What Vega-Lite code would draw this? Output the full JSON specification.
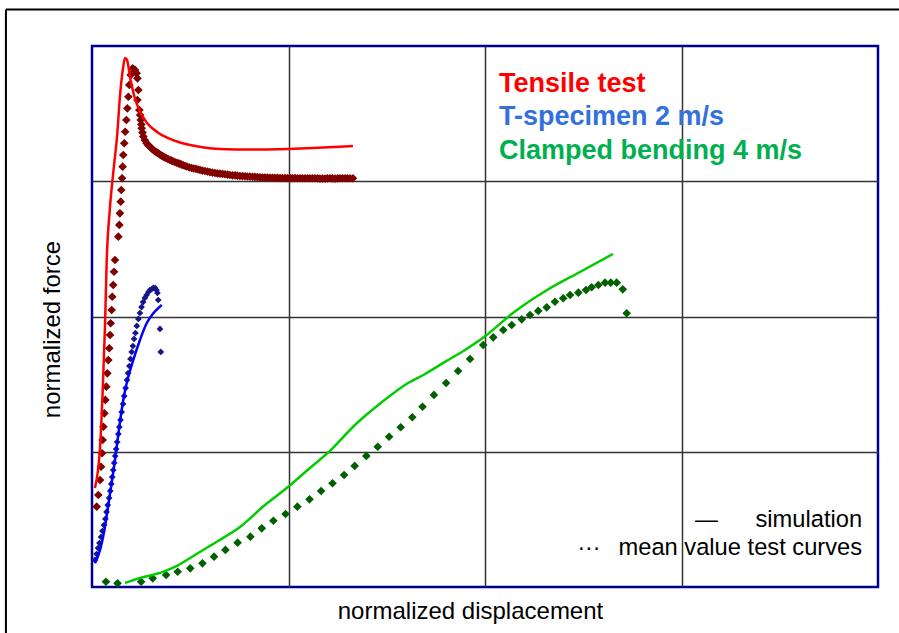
{
  "$schema": "https://vega.github.io/schema/vega-lite/v6.json",
  "width": 786,
  "height": 541,
  "autosize": {"type": "none"},
  "padding": {"left": 92, "top": 46, "right": 21, "bottom": 46},
  "background": "white",
  "config": {
    "font": "Liberation Sans",
    "view": {"stroke": "#000090", "strokeWidth": 2.5},
    "axis": {"grid": true, "ticks": false, "labels": false, "domain": false, "gridColor": "#333333", "gridWidth": 1.5, "gridOpacity": 1, "titleFont": "Liberation Sans", "titleFontSize": 24, "titleFontWeight": "normal", "titleColor": "#000000"}
  },
  "datasets": {
    "curves": [
      {"s": "tensile_sim", "x": 0.015, "y": 0.732},
      {"s": "tensile_sim", "x": 0.041, "y": 1.035},
      {"s": "tensile_sim", "x": 0.054, "y": 1.434},
      {"s": "tensile_sim", "x": 0.066, "y": 1.922},
      {"s": "tensile_sim", "x": 0.075, "y": 2.420},
      {"s": "tensile_sim", "x": 0.090, "y": 2.780},
      {"s": "tensile_sim", "x": 0.110, "y": 3.090},
      {"s": "tensile_sim", "x": 0.128, "y": 3.340},
      {"s": "tensile_sim", "x": 0.142, "y": 3.623},
      {"s": "tensile_sim", "x": 0.158, "y": 3.837},
      {"s": "tensile_sim", "x": 0.168, "y": 3.911},
      {"s": "tensile_sim", "x": 0.178, "y": 3.897},
      {"s": "tensile_sim", "x": 0.195, "y": 3.760},
      {"s": "tensile_sim", "x": 0.215, "y": 3.630},
      {"s": "tensile_sim", "x": 0.244, "y": 3.515},
      {"s": "tensile_sim", "x": 0.280, "y": 3.431},
      {"s": "tensile_sim", "x": 0.331, "y": 3.365},
      {"s": "tensile_sim", "x": 0.382, "y": 3.322},
      {"s": "tensile_sim", "x": 0.440, "y": 3.290},
      {"s": "tensile_sim", "x": 0.499, "y": 3.268},
      {"s": "tensile_sim", "x": 0.570, "y": 3.250},
      {"s": "tensile_sim", "x": 0.651, "y": 3.239},
      {"s": "tensile_sim", "x": 0.804, "y": 3.234},
      {"s": "tensile_sim", "x": 0.992, "y": 3.239},
      {"s": "tensile_sim", "x": 1.125, "y": 3.246},
      {"s": "tensile_sim", "x": 1.328, "y": 3.261},

      {"s": "tspec_sim", "x": 0.015, "y": 0.175},
      {"s": "tspec_sim", "x": 0.041, "y": 0.274},
      {"s": "tspec_sim", "x": 0.066, "y": 0.446},
      {"s": "tspec_sim", "x": 0.092, "y": 0.693},
      {"s": "tspec_sim", "x": 0.117, "y": 0.939},
      {"s": "tspec_sim", "x": 0.139, "y": 1.185},
      {"s": "tspec_sim", "x": 0.159, "y": 1.383},
      {"s": "tspec_sim", "x": 0.185, "y": 1.555},
      {"s": "tspec_sim", "x": 0.210, "y": 1.678},
      {"s": "tspec_sim", "x": 0.244, "y": 1.826},
      {"s": "tspec_sim", "x": 0.278, "y": 1.950},
      {"s": "tspec_sim", "x": 0.312, "y": 2.024},
      {"s": "tspec_sim", "x": 0.355, "y": 2.085},

      {"s": "bend_sim", "x": 0.168, "y": 0.030},
      {"s": "bend_sim", "x": 0.244, "y": 0.067},
      {"s": "bend_sim", "x": 0.346, "y": 0.104},
      {"s": "bend_sim", "x": 0.422, "y": 0.148},
      {"s": "bend_sim", "x": 0.524, "y": 0.237},
      {"s": "bend_sim", "x": 0.641, "y": 0.340},
      {"s": "bend_sim", "x": 0.753, "y": 0.444},
      {"s": "bend_sim", "x": 0.880, "y": 0.606},
      {"s": "bend_sim", "x": 0.997, "y": 0.739},
      {"s": "bend_sim", "x": 1.109, "y": 0.880},
      {"s": "bend_sim", "x": 1.211, "y": 1.006},
      {"s": "bend_sim", "x": 1.338, "y": 1.198},
      {"s": "bend_sim", "x": 1.476, "y": 1.368},
      {"s": "bend_sim", "x": 1.593, "y": 1.494},
      {"s": "bend_sim", "x": 1.695, "y": 1.575},
      {"s": "bend_sim", "x": 1.796, "y": 1.664},
      {"s": "bend_sim", "x": 1.898, "y": 1.752},
      {"s": "bend_sim", "x": 1.995, "y": 1.848},
      {"s": "bend_sim", "x": 2.142, "y": 2.026},
      {"s": "bend_sim", "x": 2.316, "y": 2.196},
      {"s": "bend_sim", "x": 2.483, "y": 2.329},
      {"s": "bend_sim", "x": 2.651, "y": 2.462},

      {"s": "tensile_test", "x": 0.024, "y": 0.594},
      {"s": "tensile_test", "x": 0.032, "y": 0.680},
      {"s": "tensile_test", "x": 0.041, "y": 0.791},
      {"s": "tensile_test", "x": 0.046, "y": 0.889},
      {"s": "tensile_test", "x": 0.051, "y": 0.989},
      {"s": "tensile_test", "x": 0.054, "y": 1.087},
      {"s": "tensile_test", "x": 0.058, "y": 1.185},
      {"s": "tensile_test", "x": 0.063, "y": 1.284},
      {"s": "tensile_test", "x": 0.068, "y": 1.383},
      {"s": "tensile_test", "x": 0.073, "y": 1.481},
      {"s": "tensile_test", "x": 0.078, "y": 1.580},
      {"s": "tensile_test", "x": 0.083, "y": 1.678},
      {"s": "tensile_test", "x": 0.088, "y": 1.765},
      {"s": "tensile_test", "x": 0.092, "y": 1.863},
      {"s": "tensile_test", "x": 0.095, "y": 1.950},
      {"s": "tensile_test", "x": 0.100, "y": 2.048},
      {"s": "tensile_test", "x": 0.103, "y": 2.146},
      {"s": "tensile_test", "x": 0.108, "y": 2.233},
      {"s": "tensile_test", "x": 0.112, "y": 2.331},
      {"s": "tensile_test", "x": 0.117, "y": 2.418},
      {"s": "tensile_test", "x": 0.134, "y": 2.590},
      {"s": "tensile_test", "x": 0.139, "y": 2.677},
      {"s": "tensile_test", "x": 0.142, "y": 2.763},
      {"s": "tensile_test", "x": 0.146, "y": 2.849},
      {"s": "tensile_test", "x": 0.149, "y": 2.935},
      {"s": "tensile_test", "x": 0.153, "y": 3.022},
      {"s": "tensile_test", "x": 0.156, "y": 3.108},
      {"s": "tensile_test", "x": 0.159, "y": 3.194},
      {"s": "tensile_test", "x": 0.164, "y": 3.281},
      {"s": "tensile_test", "x": 0.169, "y": 3.366},
      {"s": "tensile_test", "x": 0.175, "y": 3.453},
      {"s": "tensile_test", "x": 0.180, "y": 3.539},
      {"s": "tensile_test", "x": 0.185, "y": 3.625},
      {"s": "tensile_test", "x": 0.190, "y": 3.712},
      {"s": "tensile_test", "x": 0.197, "y": 3.786},
      {"s": "tensile_test", "x": 0.207, "y": 3.835},
      {"s": "tensile_test", "x": 0.219, "y": 3.823},
      {"s": "tensile_test", "x": 0.227, "y": 3.798},
      {"s": "tensile_test", "x": 0.231, "y": 3.761},
      {"s": "tensile_test", "x": 0.236, "y": 3.675},
      {"s": "tensile_test", "x": 0.231, "y": 3.601},
      {"s": "tensile_test", "x": 0.241, "y": 3.527},
      {"s": "tensile_test", "x": 0.245, "y": 3.490},
      {"s": "tensile_test", "x": 0.248, "y": 3.453},
      {"s": "tensile_test", "x": 0.251, "y": 3.420},
      {"s": "tensile_test", "x": 0.253, "y": 3.392},
      {"s": "tensile_test", "x": 0.257, "y": 3.360},
      {"s": "tensile_test", "x": 0.261, "y": 3.330},
      {"s": "tensile_test", "x": 0.269, "y": 3.303},
      {"s": "tensile_test", "x": 0.278, "y": 3.281},
      {"s": "tensile_test", "x": 0.286, "y": 3.267},
      {"s": "tensile_test", "x": 0.295, "y": 3.256},
      {"s": "tensile_test", "x": 0.303, "y": 3.243},
      {"s": "tensile_test", "x": 0.312, "y": 3.231},
      {"s": "tensile_test", "x": 0.319, "y": 3.223},
      {"s": "tensile_test", "x": 0.326, "y": 3.216},
      {"s": "tensile_test", "x": 0.331, "y": 3.211},
      {"s": "tensile_test", "x": 0.337, "y": 3.207},
      {"s": "tensile_test", "x": 0.344, "y": 3.199},
      {"s": "tensile_test", "x": 0.351, "y": 3.192},
      {"s": "tensile_test", "x": 0.357, "y": 3.187},
      {"s": "tensile_test", "x": 0.363, "y": 3.182},
      {"s": "tensile_test", "x": 0.370, "y": 3.177},
      {"s": "tensile_test", "x": 0.377, "y": 3.172},
      {"s": "tensile_test", "x": 0.387, "y": 3.164},
      {"s": "tensile_test", "x": 0.397, "y": 3.157},
      {"s": "tensile_test", "x": 0.405, "y": 3.152},
      {"s": "tensile_test", "x": 0.412, "y": 3.148},
      {"s": "tensile_test", "x": 0.421, "y": 3.142},
      {"s": "tensile_test", "x": 0.431, "y": 3.137},
      {"s": "tensile_test", "x": 0.440, "y": 3.132},
      {"s": "tensile_test", "x": 0.448, "y": 3.128},
      {"s": "tensile_test", "x": 0.456, "y": 3.123},
      {"s": "tensile_test", "x": 0.465, "y": 3.118},
      {"s": "tensile_test", "x": 0.474, "y": 3.113},
      {"s": "tensile_test", "x": 0.483, "y": 3.109},
      {"s": "tensile_test", "x": 0.495, "y": 3.103},
      {"s": "tensile_test", "x": 0.507, "y": 3.098},
      {"s": "tensile_test", "x": 0.518, "y": 3.094},
      {"s": "tensile_test", "x": 0.529, "y": 3.091},
      {"s": "tensile_test", "x": 0.540, "y": 3.087},
      {"s": "tensile_test", "x": 0.550, "y": 3.083},
      {"s": "tensile_test", "x": 0.562, "y": 3.079},
      {"s": "tensile_test", "x": 0.575, "y": 3.076},
      {"s": "tensile_test", "x": 0.588, "y": 3.072},
      {"s": "tensile_test", "x": 0.600, "y": 3.068},
      {"s": "tensile_test", "x": 0.613, "y": 3.064},
      {"s": "tensile_test", "x": 0.626, "y": 3.061},
      {"s": "tensile_test", "x": 0.638, "y": 3.058},
      {"s": "tensile_test", "x": 0.651, "y": 3.056},
      {"s": "tensile_test", "x": 0.664, "y": 3.054},
      {"s": "tensile_test", "x": 0.677, "y": 3.052},
      {"s": "tensile_test", "x": 0.690, "y": 3.049},
      {"s": "tensile_test", "x": 0.702, "y": 3.046},
      {"s": "tensile_test", "x": 0.715, "y": 3.044},
      {"s": "tensile_test", "x": 0.728, "y": 3.043},
      {"s": "tensile_test", "x": 0.740, "y": 3.041},
      {"s": "tensile_test", "x": 0.753, "y": 3.039},
      {"s": "tensile_test", "x": 0.766, "y": 3.038},
      {"s": "tensile_test", "x": 0.779, "y": 3.037},
      {"s": "tensile_test", "x": 0.791, "y": 3.035},
      {"s": "tensile_test", "x": 0.804, "y": 3.034},
      {"s": "tensile_test", "x": 0.817, "y": 3.033},
      {"s": "tensile_test", "x": 0.829, "y": 3.032},
      {"s": "tensile_test", "x": 0.842, "y": 3.030},
      {"s": "tensile_test", "x": 0.855, "y": 3.029},
      {"s": "tensile_test", "x": 0.868, "y": 3.028},
      {"s": "tensile_test", "x": 0.880, "y": 3.028},
      {"s": "tensile_test", "x": 0.893, "y": 3.027},
      {"s": "tensile_test", "x": 0.906, "y": 3.026},
      {"s": "tensile_test", "x": 0.918, "y": 3.026},
      {"s": "tensile_test", "x": 0.931, "y": 3.026},
      {"s": "tensile_test", "x": 0.944, "y": 3.025},
      {"s": "tensile_test", "x": 0.957, "y": 3.024},
      {"s": "tensile_test", "x": 0.969, "y": 3.024},
      {"s": "tensile_test", "x": 0.982, "y": 3.024},
      {"s": "tensile_test", "x": 0.995, "y": 3.023},
      {"s": "tensile_test", "x": 1.008, "y": 3.023},
      {"s": "tensile_test", "x": 1.020, "y": 3.023},
      {"s": "tensile_test", "x": 1.033, "y": 3.023},
      {"s": "tensile_test", "x": 1.046, "y": 3.022},
      {"s": "tensile_test", "x": 1.059, "y": 3.022},
      {"s": "tensile_test", "x": 1.071, "y": 3.022},
      {"s": "tensile_test", "x": 1.084, "y": 3.022},
      {"s": "tensile_test", "x": 1.097, "y": 3.022},
      {"s": "tensile_test", "x": 1.109, "y": 3.022},
      {"s": "tensile_test", "x": 1.122, "y": 3.022},
      {"s": "tensile_test", "x": 1.135, "y": 3.022},
      {"s": "tensile_test", "x": 1.148, "y": 3.021},
      {"s": "tensile_test", "x": 1.160, "y": 3.020},
      {"s": "tensile_test", "x": 1.173, "y": 3.020},
      {"s": "tensile_test", "x": 1.186, "y": 3.020},
      {"s": "tensile_test", "x": 1.198, "y": 3.021},
      {"s": "tensile_test", "x": 1.211, "y": 3.022},
      {"s": "tensile_test", "x": 1.224, "y": 3.021},
      {"s": "tensile_test", "x": 1.237, "y": 3.020},
      {"s": "tensile_test", "x": 1.250, "y": 3.021},
      {"s": "tensile_test", "x": 1.262, "y": 3.022},
      {"s": "tensile_test", "x": 1.275, "y": 3.022},
      {"s": "tensile_test", "x": 1.288, "y": 3.022},
      {"s": "tensile_test", "x": 1.300, "y": 3.022},
      {"s": "tensile_test", "x": 1.313, "y": 3.022},
      {"s": "tensile_test", "x": 1.328, "y": 3.022},

      {"s": "tspec_test", "x": 0.015, "y": 0.200},
      {"s": "tspec_test", "x": 0.023, "y": 0.244},
      {"s": "tspec_test", "x": 0.031, "y": 0.288},
      {"s": "tspec_test", "x": 0.038, "y": 0.325},
      {"s": "tspec_test", "x": 0.046, "y": 0.370},
      {"s": "tspec_test", "x": 0.053, "y": 0.414},
      {"s": "tspec_test", "x": 0.061, "y": 0.458},
      {"s": "tspec_test", "x": 0.068, "y": 0.503},
      {"s": "tspec_test", "x": 0.074, "y": 0.555},
      {"s": "tspec_test", "x": 0.080, "y": 0.606},
      {"s": "tspec_test", "x": 0.087, "y": 0.658},
      {"s": "tspec_test", "x": 0.093, "y": 0.710},
      {"s": "tspec_test", "x": 0.098, "y": 0.762},
      {"s": "tspec_test", "x": 0.103, "y": 0.813},
      {"s": "tspec_test", "x": 0.108, "y": 0.865},
      {"s": "tspec_test", "x": 0.113, "y": 0.917},
      {"s": "tspec_test", "x": 0.118, "y": 0.969},
      {"s": "tspec_test", "x": 0.123, "y": 1.020},
      {"s": "tspec_test", "x": 0.128, "y": 1.072},
      {"s": "tspec_test", "x": 0.134, "y": 1.131},
      {"s": "tspec_test", "x": 0.139, "y": 1.183},
      {"s": "tspec_test", "x": 0.145, "y": 1.235},
      {"s": "tspec_test", "x": 0.151, "y": 1.294},
      {"s": "tspec_test", "x": 0.158, "y": 1.353},
      {"s": "tspec_test", "x": 0.164, "y": 1.412},
      {"s": "tspec_test", "x": 0.171, "y": 1.471},
      {"s": "tspec_test", "x": 0.178, "y": 1.531},
      {"s": "tspec_test", "x": 0.184, "y": 1.582},
      {"s": "tspec_test", "x": 0.190, "y": 1.634},
      {"s": "tspec_test", "x": 0.196, "y": 1.686},
      {"s": "tspec_test", "x": 0.202, "y": 1.738},
      {"s": "tspec_test", "x": 0.208, "y": 1.782},
      {"s": "tspec_test", "x": 0.214, "y": 1.834},
      {"s": "tspec_test", "x": 0.221, "y": 1.878},
      {"s": "tspec_test", "x": 0.228, "y": 1.930},
      {"s": "tspec_test", "x": 0.236, "y": 1.982},
      {"s": "tspec_test", "x": 0.244, "y": 2.026},
      {"s": "tspec_test", "x": 0.252, "y": 2.070},
      {"s": "tspec_test", "x": 0.260, "y": 2.107},
      {"s": "tspec_test", "x": 0.269, "y": 2.137},
      {"s": "tspec_test", "x": 0.278, "y": 2.159},
      {"s": "tspec_test", "x": 0.287, "y": 2.181},
      {"s": "tspec_test", "x": 0.295, "y": 2.196},
      {"s": "tspec_test", "x": 0.304, "y": 2.203},
      {"s": "tspec_test", "x": 0.312, "y": 2.211},
      {"s": "tspec_test", "x": 0.321, "y": 2.211},
      {"s": "tspec_test", "x": 0.328, "y": 2.196},
      {"s": "tspec_test", "x": 0.333, "y": 2.174},
      {"s": "tspec_test", "x": 0.337, "y": 2.122},
      {"s": "tspec_test", "x": 0.346, "y": 1.908},
      {"s": "tspec_test", "x": 0.350, "y": 1.738},

      {"s": "bend_test", "x": 0.071, "y": 0.039},
      {"s": "bend_test", "x": 0.130, "y": 0.027},
      {"s": "bend_test", "x": 0.250, "y": 0.039},
      {"s": "bend_test", "x": 0.309, "y": 0.064},
      {"s": "bend_test", "x": 0.377, "y": 0.089},
      {"s": "bend_test", "x": 0.436, "y": 0.113},
      {"s": "bend_test", "x": 0.500, "y": 0.138},
      {"s": "bend_test", "x": 0.562, "y": 0.175},
      {"s": "bend_test", "x": 0.621, "y": 0.224},
      {"s": "bend_test", "x": 0.679, "y": 0.274},
      {"s": "bend_test", "x": 0.741, "y": 0.328},
      {"s": "bend_test", "x": 0.806, "y": 0.372},
      {"s": "bend_test", "x": 0.864, "y": 0.434},
      {"s": "bend_test", "x": 0.923, "y": 0.490},
      {"s": "bend_test", "x": 0.985, "y": 0.540},
      {"s": "bend_test", "x": 1.045, "y": 0.594},
      {"s": "bend_test", "x": 1.107, "y": 0.648},
      {"s": "bend_test", "x": 1.166, "y": 0.710},
      {"s": "bend_test", "x": 1.224, "y": 0.767},
      {"s": "bend_test", "x": 1.283, "y": 0.828},
      {"s": "bend_test", "x": 1.337, "y": 0.895},
      {"s": "bend_test", "x": 1.396, "y": 0.969},
      {"s": "bend_test", "x": 1.454, "y": 1.037},
      {"s": "bend_test", "x": 1.512, "y": 1.111},
      {"s": "bend_test", "x": 1.571, "y": 1.181},
      {"s": "bend_test", "x": 1.630, "y": 1.255},
      {"s": "bend_test", "x": 1.682, "y": 1.333},
      {"s": "bend_test", "x": 1.740, "y": 1.420},
      {"s": "bend_test", "x": 1.802, "y": 1.508},
      {"s": "bend_test", "x": 1.863, "y": 1.597},
      {"s": "bend_test", "x": 1.924, "y": 1.686},
      {"s": "bend_test", "x": 1.991, "y": 1.789},
      {"s": "bend_test", "x": 2.042, "y": 1.846},
      {"s": "bend_test", "x": 2.093, "y": 1.900},
      {"s": "bend_test", "x": 2.136, "y": 1.937},
      {"s": "bend_test", "x": 2.187, "y": 1.979},
      {"s": "bend_test", "x": 2.229, "y": 2.011},
      {"s": "bend_test", "x": 2.271, "y": 2.041},
      {"s": "bend_test", "x": 2.314, "y": 2.068},
      {"s": "bend_test", "x": 2.356, "y": 2.109},
      {"s": "bend_test", "x": 2.398, "y": 2.135},
      {"s": "bend_test", "x": 2.433, "y": 2.159},
      {"s": "bend_test", "x": 2.475, "y": 2.176},
      {"s": "bend_test", "x": 2.514, "y": 2.196},
      {"s": "bend_test", "x": 2.543, "y": 2.216},
      {"s": "bend_test", "x": 2.577, "y": 2.233},
      {"s": "bend_test", "x": 2.611, "y": 2.250},
      {"s": "bend_test", "x": 2.640, "y": 2.250},
      {"s": "bend_test", "x": 2.670, "y": 2.250},
      {"s": "bend_test", "x": 2.701, "y": 2.201},
      {"s": "bend_test", "x": 2.721, "y": 2.024}
    ],
    "titles": [
      {"label": "Tensile test", "x": 2.071, "y": 3.662},
      {"label": "T-specimen 2 m/s", "x": 2.071, "y": 3.416},
      {"label": "Clamped bending 4 m/s", "x": 2.071, "y": 3.162}
    ],
    "notes_right": [
      {"label": "simulation", "x": 3.919, "y": 0.444},
      {"label": "mean value test curves", "x": 3.919, "y": 0.237}
    ],
    "notes_center": [
      {"label": "—", "x": 3.127, "y": 0.444},
      {"label": "···", "x": 2.529, "y": 0.237}
    ],
    "frame": [{}]
  },
  "layer": [
    {
      "data": {"name": "curves"},
      "transform": [{"filter": "datum.s == 'tensile_test' || datum.s == 'bend_test'"}],
      "mark": {"type": "point", "shape": "diamond", "filled": true, "size": 75, "opacity": 1},
      "encoding": {
        "x": {"field": "x", "type": "quantitative", "scale": {"domain": [0, 4], "nice": false}, "axis": {"grid": true, "values": [1, 2, 3], "title": "normalized displacement", "titlePadding": 12, "titleX": 378}},
        "y": {"field": "y", "type": "quantitative", "scale": {"domain": [0, 4], "nice": false}, "axis": {"grid": true, "values": [1, 2, 3], "title": "normalized force", "titlePadding": 28, "titleY": 283}},
        "color": {"field": "s", "type": "nominal", "legend": null, "scale": {"domain": ["tensile_sim", "tspec_sim", "bend_sim", "tensile_test", "tspec_test", "bend_test", "Tensile test", "T-specimen 2 m/s", "Clamped bending 4 m/s"], "range": ["#FF0000", "#0000FF", "#00CC00", "#800000", "#14148C", "#006000", "#FF0000", "#3370DD", "#00B050"]}}
      }
    },
    {
      "data": {"name": "curves"},
      "transform": [{"filter": "datum.s == 'tspec_test'"}],
      "mark": {"type": "point", "shape": "diamond", "filled": true, "size": 45, "opacity": 1},
      "encoding": {
        "x": {"field": "x", "type": "quantitative"},
        "y": {"field": "y", "type": "quantitative"},
        "color": {"field": "s", "type": "nominal", "legend": null}
      }
    },
    {
      "data": {"name": "curves"},
      "transform": [{"filter": "datum.s == 'tensile_sim' || datum.s == 'tspec_sim' || datum.s == 'bend_sim'"}],
      "mark": {"type": "line", "strokeWidth": 2.5, "interpolate": "monotone"},
      "encoding": {
        "x": {"field": "x", "type": "quantitative"},
        "y": {"field": "y", "type": "quantitative"},
        "color": {"field": "s", "type": "nominal", "legend": null}
      }
    },
    {
      "data": {"name": "frame"},
      "mark": {"type": "rule", "stroke": "#000000", "strokeWidth": 2, "clip": false},
      "encoding": {
        "x": {"datum": -0.438, "type": "quantitative"},
        "y": {"datum": 4.27, "type": "quantitative"},
        "y2": {"datum": -1}
      }
    },
    {
      "data": {"name": "frame"},
      "mark": {"type": "rule", "stroke": "#000000", "strokeWidth": 2, "clip": false},
      "encoding": {
        "x": {"datum": -0.438, "type": "quantitative"},
        "x2": {"datum": 6},
        "y": {"datum": 4.27, "type": "quantitative"}
      }
    },
    {
      "data": {"name": "titles"},
      "mark": {"type": "text", "align": "left", "baseline": "alphabetic", "font": "Liberation Sans", "fontSize": 27, "fontWeight": "bold"},
      "encoding": {
        "x": {"field": "x", "type": "quantitative"},
        "y": {"field": "y", "type": "quantitative"},
        "text": {"field": "label"},
        "color": {"field": "label", "type": "nominal", "legend": null}
      }
    },
    {
      "data": {"name": "notes_right"},
      "mark": {"type": "text", "align": "right", "baseline": "alphabetic", "font": "Liberation Sans", "fontSize": 23.7, "color": "#000000"},
      "encoding": {
        "x": {"field": "x", "type": "quantitative"},
        "y": {"field": "y", "type": "quantitative"},
        "text": {"field": "label"}
      }
    },
    {
      "data": {"name": "notes_center"},
      "mark": {"type": "text", "align": "center", "baseline": "alphabetic", "font": "Liberation Sans", "fontSize": 23, "color": "#000000"},
      "encoding": {
        "x": {"field": "x", "type": "quantitative"},
        "y": {"field": "y", "type": "quantitative"},
        "text": {"field": "label"}
      }
    }
  ]
}
